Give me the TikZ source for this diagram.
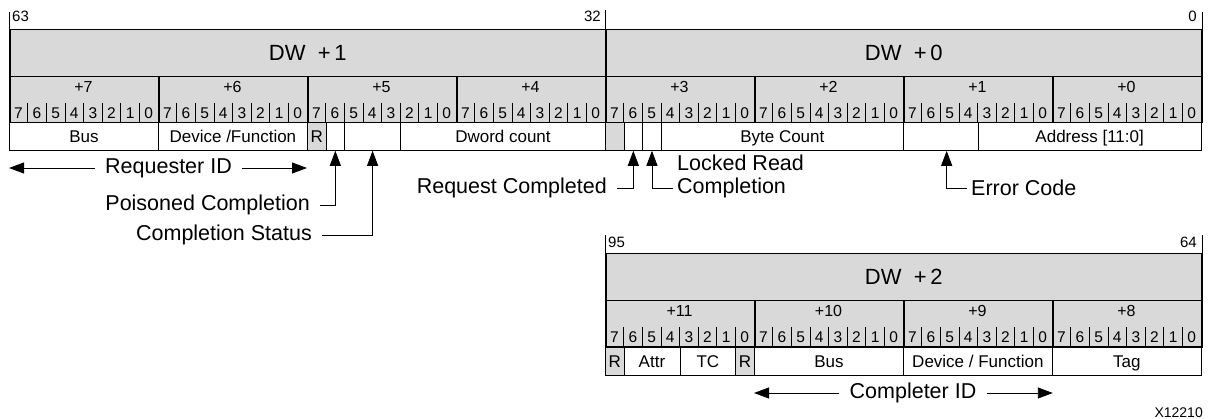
\documentclass[tikz,border=0pt]{standalone}
\usepackage{fontspec}
\setmainfont{Liberation Sans}
\usetikzlibrary{positioning,arrows.meta}
\definecolor{shade}{HTML}{D9D9D9}

\begin{document}
\begin{tikzpicture}[x=1pt,y=-1pt,
 dwbox/.style={draw,line width=1.5pt,fill=shade,anchor=north west,inner sep=0pt,
 minimum width=596pt,minimum height=47pt,font=\fontsize{22}{26}\selectfont},
 bytebox/.style={draw,line width=1.5pt,fill=shade,anchor=north west,inner sep=0pt,
 minimum width=149pt,minimum height=46pt},
 bytelbl/.style={inner sep=0pt,font=\fontsize{16}{19}\selectfont},
 bitnum/.style={inner sep=0pt,font=\fontsize{15.5}{18}\selectfont},
 fld/.style={draw,line width=0.8pt,anchor=north west,inner sep=0pt,
 minimum height=28pt,text height=12pt,text depth=0pt,font=\fontsize{17}{20}\selectfont},
 rsv/.style={fld,fill=shade},
 tick/.style={inner sep=2pt,font=\fontsize{15}{18}\selectfont},
 lbl/.style={inner xsep=10pt,inner ysep=0pt,font=\fontsize{21.5}{25}\selectfont},
 ptr/.style={-{Triangle[length=15pt,width=11pt]},line width=0.9pt}]
\useasboundingbox (0,0) rectangle (1209,419);

% double words
\node[dwbox] (dw1) at (9,29) {DW\ \ +\,1};
\node[dwbox] (dw0) at (605,29) {DW\ \ +\,0};
\node[dwbox] (dw2) at (605,253) {DW\ \ +\,2};

% bytes and bit numbers
\foreach \n [count=\i from 0] in {7,6,5,4,3,2,1,0} {
 \node[bytebox] (byte\n) at ({9+149*\i},76) {};
 \node[bytelbl] at ({83.5+149*\i},87) {+\n};
 \foreach \k in {0,...,7} {
 \pgfmathtruncatemacro\bit{7-\k}
 \node[bitnum] at ({9+149*\i+18.625*(\k+0.5)},113) {\bit};
 }
 \foreach \k in {1,...,7}
 \draw[line width=0.6pt] ({9+149*\i+18.625*\k},103) -- ++(0,19);
}
\foreach \n [count=\i from 0] in {11,10,9,8} {
 \node[bytebox] (byte\n) at ({605+149*\i},300) {};
 \node[bytelbl] at ({679.5+149*\i},311) {+\n};
 \foreach \k in {0,...,7} {
 \pgfmathtruncatemacro\bit{7-\k}
 \node[bitnum] at ({605+149*\i+18.625*(\k+0.5)},337) {\bit};
 }
 \foreach \k in {1,...,7}
 \draw[line width=0.6pt] ({605+149*\i+18.625*\k},327) -- ++(0,19);
}

% bit positions
\node[tick,anchor=west] (t63) at (10,16) {63};
\node[tick,anchor=east] (t32) at (603,16) {32};
\node[tick,anchor=east] (t0) at (1199,16) {0};
\node[tick,anchor=west] (t95) at (606,242) {95};
\node[tick,anchor=east] (t64) at (1199,242) {64};
\draw[line width=0.8pt] (dw1.north west) -- ++(0,-17);
\draw[line width=0.8pt] (dw0.north west) -- ++(0,-19);
\draw[line width=0.8pt] (dw0.north east) -- ++(0,-17);
\draw[line width=0.8pt] (dw2.north west) -- ++(0,-18);
\draw[line width=0.8pt] (dw2.north east) -- ++(0,-18);

% fields, DW +1 / DW +0
\node[fld,minimum width=149pt] (rbus) at (9,122) {Bus};
\node[fld,minimum width=149pt] (rdev) at (158,122) {Device /Function};
\node[rsv,minimum width=18.625pt] (rsv47) at (307,122) {R};
\node[fld,minimum width=18.625pt] (ep) at (325.625,122) {};
\node[fld,minimum width=55.875pt] (cst) at (344.25,122) {};
\node[fld,minimum width=204.875pt] (dwc) at (400.125,122) {Dword count};
\node[rsv,minimum width=18.625pt] (rsv31) at (605,122) {};
\node[fld,minimum width=18.625pt] (rc) at (623.625,122) {};
\node[fld,minimum width=18.625pt] (lk) at (642.25,122) {};
\node[fld,minimum width=242.125pt] (bc) at (660.875,122) {Byte Count};
\node[fld,minimum width=74.5pt] (err) at (903,122) {};
\node[fld,minimum width=223.5pt] (addr) at (977.5,122) {Address [11:0]};

% fields, DW +2
\node[rsv,minimum width=18.625pt] (rsv95) at (605,347) {R};
\node[fld,minimum width=55.875pt] (attr) at (623.625,347) {Attr};
\node[fld,minimum width=55.875pt] (tc) at (679.5,347) {TC};
\node[rsv,minimum width=18.625pt] (rsv88) at (735.375,347) {R};
\node[fld,minimum width=149pt] (cbus) at (754,347) {Bus};
\node[fld,minimum width=149pt] (cdev) at (903,347) {Device / Function};
\node[fld,minimum width=149pt] (tag) at (1052,347) {Tag};

% callouts
\node[lbl] (reqid) at (168.5,168) {Requester ID};
\node[lbl,anchor=east] (pois) at (320,205) {Poisoned Completion};
\node[lbl,anchor=east] (cstat) at (322,235) {Completion Status};
\node[lbl,anchor=east] (reqc) at (617,188) {Request Completed};
\node[lbl,anchor=west,inner xsep=4pt] (lock1) at (673,163) {Locked Read};
\node[lbl,anchor=west,inner xsep=4pt] (lock2) at (673,188) {Completion};
\node[lbl,anchor=west,inner xsep=4pt] (errc) at (967,188) {Error Code};
\node[lbl] (cmpid) at (913,393) {Completer ID};
\node[inner sep=1pt,anchor=east,font=\fontsize{14}{17}\selectfont] (fig) at (1204,413) {X12210};

\draw[ptr] (reqid.west) -- (reqid.west -| rbus.west);
\draw[ptr] (reqid.east) -- (reqid.east -| rsv47.west);
\draw[ptr] (pois.east) -| (ep.south);
\draw[ptr] (cstat.east) -| (cst.south);
\draw[ptr] (reqc.east) -| (rc.south);
\draw[ptr] (lock2.west) -| (lk.south);
\draw[ptr] (errc.west) -| ([xshift=6pt]err.south);
\draw[ptr] (cmpid.west) -- (cmpid.west -| cbus.west);
\draw[ptr] (cmpid.east) -- (cmpid.east -| cdev.east);
\end{tikzpicture}
\end{document}
